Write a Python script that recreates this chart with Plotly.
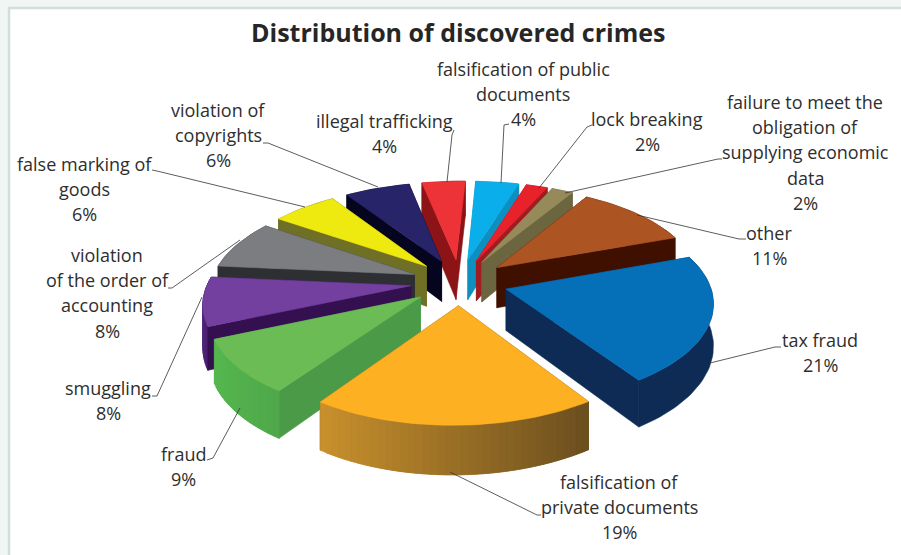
import math
import plotly.graph_objects as go

# ---- data ----
categories = ["tax fraud", "falsification of private documents", "fraud", "smuggling",
              "violation of the order of accounting", "false marking of goods",
              "violation of copyrights", "illegal trafficking",
              "falsification of public documents", "lock breaking",
              "failure to meet the obligation of supplying economic data", "other"]
values = [21, 19, 9, 8, 8, 6, 6, 4, 4, 2, 2, 11]

# ---- styles ----
top_colors = ["#0570b8", "#fdb022", "#6cbc55", "#7440a0", "#7b7d80", "#eeea10",
              "#28246a", "#ee3338", "#0aaeea", "#e8222a", "#968a5a", "#ad5423"]
wall_colors = ["#0e2b55", "#7c5a20", "#4a9a48", "#351050", "#2e2f33", "#6f6f25",
               "#050520", "#8c1416", "#0f8fbf", "#a01c20", "#6b6540", "#3f1000"]
arc_start = ["#0e2b55", "#c9912c", "#55b84f", "#5a2c80", "#2e2f33", "#6f6f25",
             "#050520", "#8c1416", "#0f8fbf", "#a01c20", "#6b6540", "#3f1000"]
arc_end = ["#0e2b55", "#6b4e1f", "#4fa84a", "#4a1f70", "#2e2f33", "#6f6f25",
           "#050520", "#8c1416", "#0f8fbf", "#a01c20", "#6b6540", "#3f1000"]

# ---- projection of the exploded disc ----
CX, CY, RX, RY, PERSP, DEPTH, PULL, START, SHEAR = 459.5, 282, 203, 95.5, 0.14, 41, 0.24, 70, 0.05


def project(u, v, drop=0):
    w = 1 / (1 - PERSP * v)
    return CX + RX * u * w - SHEAR * RY * v * w, CY + RY * v * w + DEPTH * w * drop


def mix(a, b, t):
    ca = [int(a[i:i + 2], 16) for i in (1, 3, 5)]
    cb = [int(b[i:i + 2], 16) for i in (1, 3, 5)]
    return "rgb(%d,%d,%d)" % tuple(round(x + (y - x) * t) for x, y in zip(ca, cb))


def poly(fig, pts, color, name=None):
    fig.add_trace(go.Scatter(
        x=[p[0] for p in pts] + [pts[0][0]], y=[p[1] for p in pts] + [pts[0][1]],
        mode="lines", fill="toself", fillcolor=color,
        line=dict(color=color, width=0.6), showlegend=False,
        hoverinfo="text" if name else "skip", text=name, name=name or ""))


fig = go.Figure()
total = sum(values)
slices = []
acc = 0
for i, val in enumerate(values):
    a0 = math.radians(START + 360 * acc / total)
    a1 = math.radians(START + 360 * (acc + val) / total)
    acc += val
    mid = (a0 + a1) / 2
    slices.append((-math.cos(mid), i, a0, a1, mid))

for _, i, a0, a1, mid in sorted(slices):
    ou, ov = PULL * math.sin(mid), -PULL * math.cos(mid)
    n = max(8, int(values[i] * 2))
    disc = [(ou + math.sin(a0 + (a1 - a0) * k / n), ov - math.cos(a0 + (a1 - a0) * k / n))
            for k in range(n + 1)]
    apex = (ou, ov)
    walls = []
    for end in (disc[0], disc[-1]):
        vm = (apex[1] + end[1]) / 2
        walls.append((vm, [project(*apex), project(*end), project(*end, 1), project(*apex, 1)],
                       wall_colors[i]))
    mean_v = sum(d[1] for d in disc) / len(disc)
    if arc_start[i] == arc_end[i]:
        walls.append((mean_v, [project(*d) for d in disc] + [project(*d, 1) for d in reversed(disc)],
                      arc_start[i]))
    else:
        # gradient across the screen: overlapping bands, painted from one end to the other
        umax, umin = max(d[0] for d in disc), min(d[0] for d in disc)
        order = sorted(range(n), key=lambda k: disc[k][0] + disc[k + 1][0])
        for rank, k in enumerate(order):
            ahead = order[min(rank + 1, n - 1)]
            band = sorted({k, k + 1, ahead, ahead + 1})
            t = ((disc[k][0] + disc[k + 1][0]) / 2 - umin) / (umax - umin)
            walls.append((mean_v + rank * 1e-4,
                          [project(*disc[b]) for b in band] + [project(*disc[b], 1) for b in reversed(band)],
                          mix(arc_start[i], arc_end[i], t)))
    for _, pts, col in sorted(walls, key=lambda w: w[0]):
        poly(fig, pts, col)
    poly(fig, [project(*apex)] + [project(*d) for d in disc], top_colors[i],
         "%s: %d%%" % (categories[i], values[i]))

# ---- label text, one line per row: (centre x, first-line y, lines) ----
label_blocks = [
    (523, 69, ["falsification of public", "documents", "4%"]),
    (647, 119, ["lock breaking", "2%"]),
    (805, 102, ["failure to meet the", "obligation of", "supplying economic", "data", "2%"]),
    (769, 233, ["other", "11%"]),
    (820, 340, ["tax fraud", "21%"]),
    (619, 482, ["falsification of", "private documents", "19%"]),
    (183, 454, ["fraud", "9%"]),
    (108, 388, ["smuggling", "8%"]),
    (107, 255, ["violation", "of the order of", "accounting", "8%"]),
    (84, 164, ["false marking of", "goods", "6%"]),
    (218, 110, ["violation of", "copyrights", "6%"]),
    (384, 121, ["illegal trafficking", "4%"]),
]
leaders = [
    [(152, 170), (157, 171), (305, 207)],
    [(263, 143), (268, 143), (378, 187)],
    [(447, 182), (452, 135), (454, 130)],
    [(501, 183), (504, 125), (509, 124)],
    [(539, 188), (587, 127), (592, 125)],
    [(565, 193), (718, 159), (722, 159)],
    [(637, 215), (739, 239), (746, 239)],
    [(710, 363), (775, 347), (781, 347)],
    [(450, 472), (537, 515), (541, 515)],
    [(207, 460), (213, 458), (240, 408)],
    [(152, 396), (157, 396), (202, 297)],
    [(168, 288), (172, 288), (240, 240)],
]

shapes = [dict(type="rect", xref="x", yref="y", x0=9, y0=8, x1=920, y1=570,
               line=dict(color="#cfe0db", width=2.5), fillcolor="white", layer="below")]
for pts in leaders:
    path = "M" + " L".join("%g,%g" % p for p in pts)
    shapes.append(dict(type="path", xref="x", yref="y", path=path,
                       line=dict(color="#333333", width=0.8), layer="above"))

annotations = [dict(x=458, y=32, xref="x", yref="y", text="<b>Distribution of discovered crimes</b>",
                    showarrow=False, font=dict(family="Open Sans", size=25, color="#262626"))]
for cx, y0, lines in label_blocks:
    for k, line in enumerate(lines):
        annotations.append(dict(x=cx, y=y0 + k * 25.2, xref="x", yref="y", text=line, showarrow=False,
                                font=dict(family="Open Sans", size=18, color="#2e2e2e")))

fig.update_layout(
    width=901, height=555, margin=dict(l=0, r=0, t=0, b=0),
    paper_bgcolor="#f1f5f3", plot_bgcolor="rgba(0,0,0,0)", showlegend=False,
    xaxis=dict(range=[0, 901], visible=False, fixedrange=True),
    yaxis=dict(range=[555, 0], visible=False, fixedrange=True),
    shapes=shapes, annotations=annotations,
)
fig.write_html("out.html", config={"displayModeBar": False},
               post_script="document.body.style.margin='0';document.body.style.overflow='hidden';")
